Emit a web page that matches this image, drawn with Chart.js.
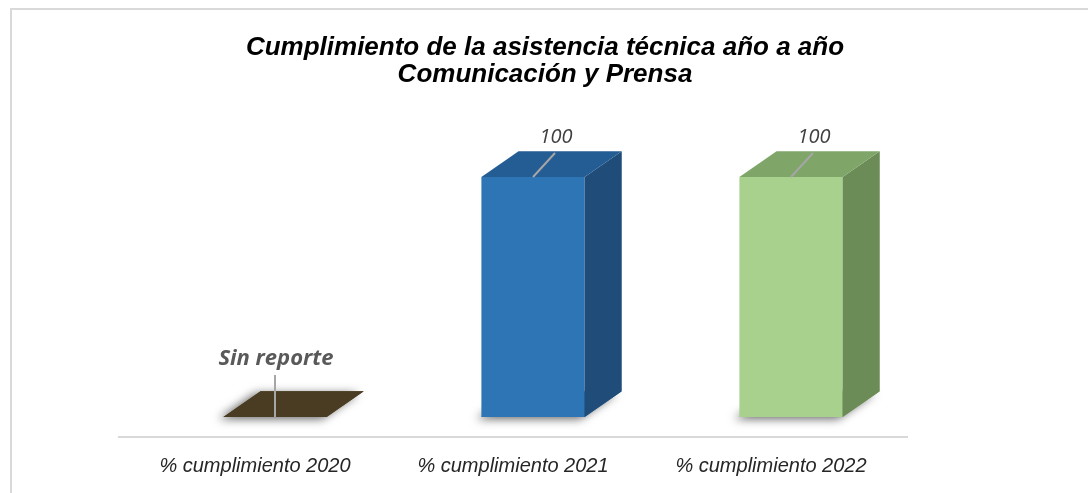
<!DOCTYPE html>
<html lang="es">
<head>
<meta charset="utf-8">
<title>Cumplimiento de la asistencia técnica</title>
<script src="https://cdn.jsdelivr.net/npm/chart.js@4/dist/chart.umd.min.js"></script>
<style>
    html, body { margin: 0; padding: 0; background: #ffffff; }
    #caja { position: relative; width: 1088px; height: 493px; }
</style>
</head>
<body>
<div id="caja"><canvas id="grafico"></canvas></div>
<script>
// Datos del gráfico
const categorias = ['% cumplimiento 2020', '% cumplimiento 2021', '% cumplimiento 2022'];
const valores = [0, 100, 100];
const sinReporte = [true, false, false];
const titulo = ['Cumplimiento de la asistencia técnica año a año', 'Comunicación y Prensa'];

// Colores de cada barra (frente, tapa y lateral)
const colorFrente = ['#4a3c22', '#2e75b6', '#a9d18e'];
const colorTapa = ['#4a3c22', '#245d93', '#7fa668'];
const colorLado = ['#3a2f1a', '#1f4c78', '#6b8b57'];

function cuadro(ctx, pts) {
    ctx.beginPath();
    ctx.moveTo(pts[0], pts[1]);
    for (let k = 2; k < pts.length; k += 2) ctx.lineTo(pts[k], pts[k + 1]);
    ctx.closePath();
}

// Fondo, marco y línea del eje
const marco = {
    id: 'marco',
    beforeDraw(chart) {
        const ctx = chart.ctx;
        ctx.save();
        ctx.fillStyle = '#ffffff';
        ctx.fillRect(0, 0, chart.width, chart.height);
        ctx.strokeStyle = '#d9d9d9';
        ctx.lineWidth = 2;
        ctx.beginPath();
        ctx.moveTo(11, chart.height);
        ctx.lineTo(11, 9);
        ctx.lineTo(chart.width, 9);
        ctx.stroke();
        const a = chart.chartArea;
        ctx.beginPath();
        ctx.moveTo(a.left - 28, a.bottom + 20);
        ctx.lineTo(a.right - 12, a.bottom + 20);
        ctx.stroke();
        ctx.restore();
    }
};

// Barras en 3D: sombra, tapa, lateral y etiquetas
const cubo3d = {
    id: 'cubo3d',
    beforeDatasetsDraw(chart) {
        const ctx = chart.ctx;
        chart.getDatasetMeta(0).data.forEach((bar, i) => {
            const p = bar.getProps(['x', 'base', 'width'], true);
            const dx = p.width * 0.36, dy = p.width * 0.25;
            const x0 = p.x - p.width / 2, x1 = p.x + p.width / 2;
            ctx.save();
            ctx.shadowColor = 'rgba(0,0,0,0.6)';
            ctx.shadowBlur = 10;
            ctx.shadowOffsetX = -5;
            ctx.shadowOffsetY = 2;
            ctx.fillStyle = colorTapa[i];
            cuadro(ctx, [x0, p.base, x1, p.base, x1 + dx, p.base - dy, x0 + dx, p.base - dy]);
            ctx.fill();
            ctx.restore();
        });
    },
    afterDatasetsDraw(chart) {
        const ctx = chart.ctx;
        chart.getDatasetMeta(0).data.forEach((bar, i) => {
            const p = bar.getProps(['x', 'y', 'base', 'width'], true);
            const dx = p.width * 0.36, dy = p.width * 0.25;
            const x0 = p.x - p.width / 2, x1 = p.x + p.width / 2;
            ctx.save();
            if (p.base - p.y > 1) {
                ctx.fillStyle = colorLado[i];
                cuadro(ctx, [x1, p.y, x1 + dx, p.y - dy, x1 + dx, p.base - dy, x1, p.base]);
                ctx.fill();
            }
            ctx.fillStyle = colorTapa[i];
            cuadro(ctx, [x0, p.y, x1, p.y, x1 + dx, p.y - dy, x0 + dx, p.y - dy]);
            ctx.fill();

            // línea guía y etiqueta
            let fin;
            ctx.strokeStyle = '#a6a6a6';
            ctx.lineWidth = 2;
            ctx.beginPath();
            ctx.moveTo(p.x, p.y);
            if (sinReporte[i]) {
                fin = { x: p.x, y: p.y - 42 };
                ctx.font = 'italic bold 22px "Open Sans"';
                ctx.fillStyle = '#595959';
            } else {
                fin = { x: p.x + 22, y: p.y - 24 };
                ctx.font = 'italic 20px "Open Sans"';
                ctx.fillStyle = '#404040';
            }
            ctx.lineTo(fin.x, fin.y);
            ctx.stroke();
            ctx.textAlign = 'center';
            ctx.textBaseline = 'alphabetic';
            const texto = sinReporte[i] ? 'Sin reporte' : String(valores[i]);
            ctx.fillText(texto, fin.x + 1, fin.y - 10);
            ctx.restore();
        });
    }
};

const ctx = document.getElementById('grafico').getContext('2d');
const grafico = new Chart(ctx, {
    type: 'bar',
    data: {
        labels: categorias,
        datasets: [{
            data: valores,
            backgroundColor: colorFrente,
            borderWidth: 0,
            barPercentage: 0.4,
            categoryPercentage: 1
        }]
    },
    options: {
        responsive: true,
        maintainAspectRatio: false,
        animation: false,
        layout: {
            padding: { left: 146, right: 144, top: 0, bottom: 6 }
        },
        scales: {
            x: {
                grid: { display: false, drawTicks: false },
                border: { display: false },
                ticks: {
                    color: '#262626',
                    font: { family: '"Liberation Sans", Arial', size: 20, style: 'italic' },
                    padding: 37,
                    labelOffset: -20,
                    maxRotation: 0,
                    autoSkip: false
                },
                afterFit(scale) { scale.height = 70; }
            },
            y: {
                position: 'right',
                min: 0,
                max: 100,
                grid: { display: false, drawTicks: false },
                border: { display: false },
                ticks: { display: false },
                afterFit(scale) { scale.width = 24; }
            }
        },
        plugins: {
            legend: { display: false },
            tooltip: { enabled: false },
            title: {
                display: true,
                text: titulo,
                color: '#000000',
                font: { family: '"Liberation Sans", Arial', size: 26, style: 'italic', weight: 'bold', lineHeight: 1.02 },
                padding: { top: 35, bottom: 89 }
            }
        }
    },
    plugins: [marco, cubo3d]
});
</script>
</body>
</html>
